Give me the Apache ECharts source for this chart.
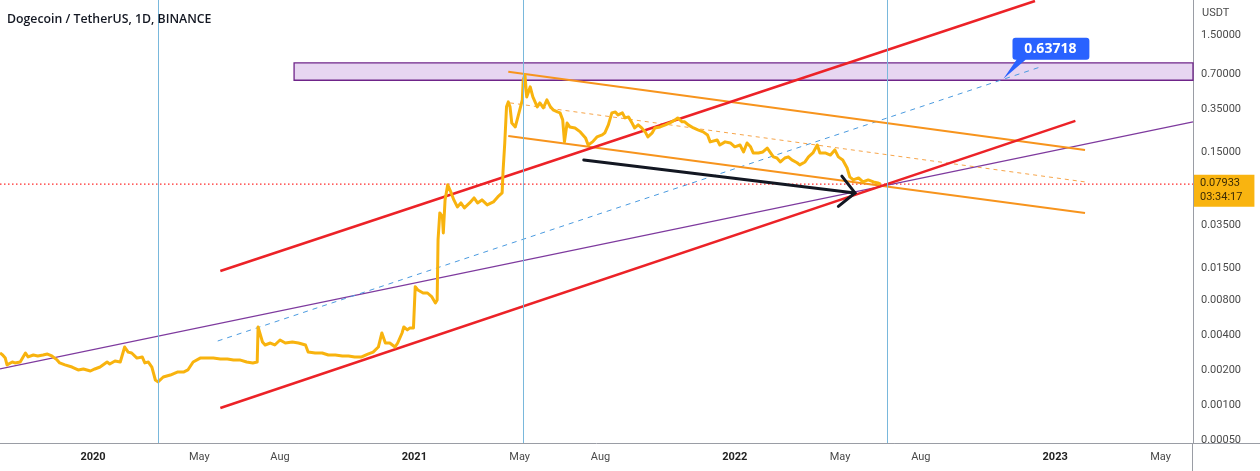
<!DOCTYPE html>
<html><head><meta charset="utf-8">
<script src="https://cdn.jsdelivr.net/npm/echarts@6/dist/echarts.min.js"></script>
<style>html,body{margin:0;padding:0;background:#fff}#c{width:1260px;height:471px}</style>
</head><body><div id="c"></div>
<script>
const chartTitle = 'Dogecoin / TetherUS, 1D, BINANCE';
const quoteUnit = 'USDT';

const priceDates = [
'2019-09-17','2019-09-20','2019-09-23','2019-09-25','2019-10-01','2019-10-04','2019-10-10','2019-10-16','2019-10-19','2019-10-25',
'2019-10-30','2019-11-05','2019-11-10','2019-11-15','2019-11-21','2019-11-24','2019-11-30','2019-12-08','2019-12-15','2019-12-21',
'2019-12-29','2020-01-03','2020-01-09','2020-01-17','2020-01-20','2020-01-26','2020-02-01','2020-02-06','2020-02-10','2020-02-14',
'2020-02-20','2020-02-26','2020-02-29','2020-03-04','2020-03-08','2020-03-12','2020-03-15','2020-03-21','2020-03-29','2020-04-06',
'2020-04-13','2020-04-18','2020-04-24','2020-05-02','2020-05-10','2020-05-17','2020-05-25','2020-06-02','2020-06-09','2020-06-16',
'2020-06-24','2020-07-01','2020-07-06','2020-07-07','2020-07-12','2020-07-15','2020-07-21','2020-07-26','2020-08-01','2020-08-07',
'2020-08-15','2020-08-22','2020-08-30','2020-09-02','2020-09-10','2020-09-18','2020-09-25','2020-10-03','2020-10-11','2020-10-18',
'2020-10-25','2020-11-02','2020-11-09','2020-11-15','2020-11-21','2020-11-25','2020-11-29','2020-12-04','2020-12-10','2020-12-13',
'2020-12-18','2020-12-20','2020-12-24','2020-12-27','2020-12-31','2021-01-02','2021-01-05','2021-01-11','2021-01-16','2021-01-21',
'2021-01-25','2021-01-27','2021-01-28','2021-01-30','2021-02-02','2021-02-03','2021-02-05','2021-02-08','2021-02-12','2021-02-15',
'2021-02-19','2021-02-23','2021-02-27','2021-03-05','2021-03-10','2021-03-14','2021-03-19','2021-03-25','2021-04-01','2021-04-06',
'2021-04-11','2021-04-12','2021-04-14','2021-04-16','2021-04-18','2021-04-20','2021-04-22','2021-04-26','2021-04-29','2021-05-04',
'2021-05-05','2021-05-07','2021-05-09','2021-05-13','2021-05-16','2021-05-21','2021-05-24','2021-05-28','2021-06-01','2021-06-05',
'2021-06-08','2021-06-13','2021-06-16','2021-06-19','2021-06-21','2021-06-24','2021-06-27','2021-07-03','2021-07-09','2021-07-15',
'2021-07-18','2021-07-23','2021-07-28','2021-08-03','2021-08-06','2021-08-10','2021-08-14','2021-08-18','2021-08-21','2021-08-26',
'2021-08-29','2021-09-02','2021-09-06','2021-09-09','2021-09-13','2021-09-17','2021-09-21','2021-09-24','2021-09-29','2021-10-02',
'2021-10-08','2021-10-14','2021-10-19','2021-10-25','2021-10-28','2021-11-02','2021-11-05','2021-11-09','2021-11-15','2021-11-20',
'2021-11-26','2021-12-01','2021-12-04','2021-12-06','2021-12-12','2021-12-15','2021-12-21','2021-12-27','2022-01-01','2022-01-07',
'2022-01-11','2022-01-15','2022-01-19','2022-01-22','2022-01-28','2022-02-02','2022-02-07','2022-02-10','2022-02-14','2022-02-18',
'2022-02-22','2022-02-27','2022-03-03','2022-03-07','2022-03-13','2022-03-16','2022-03-22','2022-03-26','2022-03-31','2022-04-05',
'2022-04-08','2022-04-14','2022-04-20','2022-04-25','2022-04-29','2022-05-04','2022-05-09','2022-05-12','2022-05-16','2022-05-22',
'2022-05-27','2022-06-02','2022-06-08','2022-06-13','2022-06-16'
];
const priceValues = [
0.00280,0.00269,0.00253,0.00221,0.00234,0.00230,0.00234,0.00280,0.00259,0.00269,
0.00264,0.00269,0.00274,0.00264,0.00244,0.00230,0.00221,0.00212,0.00200,0.00204,
0.00196,0.00204,0.00212,0.00234,0.00225,0.00239,0.00234,0.00315,0.00285,0.00280,
0.00253,0.00259,0.00230,0.00234,0.00212,0.00164,0.00158,0.00174,0.00181,0.00192,
0.00192,0.00200,0.00234,0.00253,0.00253,0.00253,0.00249,0.00249,0.00244,0.00244,
0.00234,0.00230,0.00234,0.00469,0.00348,0.00328,0.00341,0.00328,0.00362,0.00341,
0.00348,0.00341,0.00328,0.00285,0.00280,0.00280,0.00269,0.00269,0.00264,0.00264,
0.00259,0.00259,0.00274,0.00285,0.00315,0.00416,0.00341,0.00341,0.00315,0.00341,
0.00416,0.00469,0.00442,0.00460,0.00460,0.0104,0.00975,0.00918,0.00918,0.00849,
0.00754,0.0080,0.0263,0.0448,0.0414,0.0301,0.0580,0.0781,0.0666,0.0580,
0.0505,0.0546,0.0495,0.0546,0.0603,0.0546,0.0580,0.0525,0.0557,0.0615,
0.0666,0.1009,0.179,0.366,0.404,0.366,0.266,0.246,0.300,0.420,
0.625,0.690,0.446,0.544,0.446,0.366,0.396,0.359,0.420,0.366,
0.345,0.331,0.325,0.283,0.183,0.266,0.246,0.241,0.223,0.198,
0.172,0.183,0.202,0.210,0.219,0.256,0.325,0.331,0.312,0.325,
0.294,0.300,0.266,0.241,0.256,0.241,0.223,0.202,0.219,0.241,
0.246,0.256,0.266,0.283,0.294,0.272,0.272,0.256,0.241,0.232,
0.223,0.210,0.183,0.179,0.190,0.172,0.183,0.179,0.166,0.172,
0.150,0.179,0.166,0.147,0.147,0.150,0.162,0.150,0.136,0.133,
0.123,0.133,0.136,0.128,0.121,0.116,0.123,0.136,0.147,0.172,
0.147,0.147,0.141,0.156,0.136,0.128,0.109,0.0914,0.0862,0.0896,
0.0828,0.0862,0.0828,0.0812,0.07933
];

const lastPrice = 0.07933;
const countdownText = '03:34:17';

const xTickDates = ['2020-01-01','2020-05-01','2020-08-01','2021-01-01','2021-05-01','2021-08-01','2022-01-01','2022-05-01','2022-08-01','2023-01-01','2023-05-01'];
const xTickLabels = ['2020','May','Aug','2021','May','Aug','2022','May','Aug','2023','May'];
const yTickValues = [1.5, 0.7, 0.35, 0.15, 0.035, 0.015, 0.008, 0.004, 0.002, 0.001, 0.0005];

const cycleMarkerDates = ['2020-03-15','2021-05-05','2022-06-24'];

const redUpperLine = [['2020-05-25', 0.0142], ['2022-12-09', 2.98]];
const redLowerLine = [['2020-05-25', 0.000942], ['2023-01-24', 0.277]];
const orangeUpperLine = [['2021-04-18', 0.732], ['2023-02-04', 0.156]];
const orangeLowerLine = [['2021-04-18', 0.206], ['2023-02-04', 0.0448]];
const orangeMidLine = [['2021-04-20', 0.396], ['2023-02-04', 0.0828]];
const purpleLine = [['2019-09-17', 0.00204], ['2023-06-07', 0.272]];
const blueDashLine = [['2020-05-22', 0.00355], ['2022-12-15', 0.806]];
const targetPoint = ['2022-11-03', 0.63718];
const arrowShaft = [['2021-07-13', 0.128], ['2022-05-18', 0.0666]];
const arrowHead = [['2022-05-03', 0.0930], ['2022-05-18', 0.0666], ['2022-04-29', 0.0510]];

const zoneStart = '2020-08-17';
const zoneEnd = '2023-06-07';
const zoneLow = 0.62;
const zoneHigh = 0.873;

const xMin = '2019-09-17';
const xMax = '2023-06-07';
const yMin = 0.000471;
const yMax = 3.037;

const xLabelMap = {};
xTickDates.forEach((d, i) => { xLabelMap[d.slice(0, 7)] = xTickLabels[i]; });
const DAY = 86400000;

const chart = echarts.init(document.getElementById('c'), null, {renderer: 'canvas'});

function lineSeries(data, color, width, type, z) {
  return {
    type: 'line', data: data, showSymbol: false, symbol: 'none', silent: true,
    lineStyle: {color: color, width: width, type: type || 'solid', cap: 'butt'},
    z: z || 3, animation: false
  };
}

const option = {
  animation: false,
  backgroundColor: '#ffffff',
  title: {
    text: chartTitle, left: 2, top: 8,
    textStyle: {fontFamily: 'Open Sans', fontWeight: 600, fontSize: 12.3, color: '#131722'}
  },
  grid: {left: 0, right: 67, top: 0, bottom: 28, containLabel: false},
  xAxis: {
    type: 'time', min: xMin, max: xMax,
    minInterval: 28 * DAY, maxInterval: 31 * DAY,
    axisLine: {show: true, lineStyle: {color: '#9a9da5', width: 1}},
    axisTick: {show: false},
    splitLine: {show: false},
    axisLabel: {
      margin: 9, hideOverlap: false, showMinLabel: false, showMaxLabel: false,
      fontFamily: 'Roboto', fontSize: 11, color: '#4a4a4a',
      formatter: function (v) {
        const d = new Date(v);
        if (d.getDate() !== 1) return '';
        const key = d.getFullYear() + '-' + String(d.getMonth() + 1).padStart(2, '0');
        const l = xLabelMap[key];
        if (l === undefined) return '';
        return /^\d{4}$/.test(l) ? '{y|' + l + '}' : l;
      },
      rich: {y: {fontFamily: 'Roboto', fontSize: 11, fontWeight: 'bold', color: '#222'}}
    }
  },
  yAxis: {
    type: 'log', logBase: 10, min: yMin, max: yMax, position: 'right',
    axisLine: {show: true, lineStyle: {color: '#9a9da5', width: 1}},
    axisTick: {show: false},
    splitLine: {show: false},
    axisLabel: {
      customValues: yTickValues,
      margin: 8, fontFamily: 'Roboto', fontSize: 11, color: '#4a4a4a',
      formatter: v => Number(v).toFixed(5)
    }
  },
  graphic: [
    {type: 'text', left: 1202, top: 8, style: {text: quoteUnit, font: '11px Roboto', fill: '#4a4a4a'}, z: 100},
    {type: 'rect', shape: {x: 1194, y: 443, width: 66, height: 28}, style: {fill: '#fff'}, z: 100},
    {type: 'line', shape: {x1: 1192.5, y1: 443, x2: 1192.5, y2: 471}, style: {stroke: '#9a9da5', lineWidth: 1}, z: 101},
    {type: 'line', shape: {x1: 1193, y1: 443.5, x2: 1260, y2: 443.5}, style: {stroke: '#9a9da5', lineWidth: 1}, z: 101}
  ],
  series: [
    {
      type: 'line', data: [], silent: true,
      markArea: {
        silent: true,
        itemStyle: {color: '#e7d6f1', borderColor: '#6f2489', borderWidth: 1.3},
        data: [[{xAxis: zoneStart, yAxis: zoneLow}, {xAxis: zoneEnd, yAxis: zoneHigh}]]
      },
      markLine: {
        silent: true, symbol: ['none', 'none'], animation: false,
        lineStyle: {color: '#79b8dc', width: 1, type: 'solid'},
        label: {show: false},
        data: cycleMarkerDates.map(d => ({xAxis: d}))
      },
      z: 1
    },
    Object.assign(lineSeries([[xMin, lastPrice], [xMax, lastPrice]], '#ff2a2a', 1.2, [1.5, 2.5], 2), {
      markLine: {
        silent: true, symbol: ['none', 'none'], animation: false,
        lineStyle: {color: 'rgba(0,0,0,0)', width: 0},
        label: {
          show: true, position: 'end', distance: 1,
          formatter: lastPrice.toFixed(5) + '\n' + countdownText,
          backgroundColor: '#f9b410', color: '#3b2b05',
          fontFamily: 'Roboto', fontSize: 11, lineHeight: 14,
          padding: [2, 12, 2, 6], offset: [0, 7]
        },
        data: [{yAxis: lastPrice}]
      }
    }),
    lineSeries(purpleLine, '#7e3a9e', 1.2, 'solid', 2),
    Object.assign(lineSeries(blueDashLine, '#4b9be0', 1, [5, 5], 2), {
      markPoint: {
        silent: true, animation: false,
        data: [{coord: targetPoint, value: targetPoint[1]}],
        symbol: 'path://M12,0 L82,0 Q85,0 85,3 L85,19 Q85,22 82,22 L22,22 L0,41 L13,22 L12,22 Q9,22 9,19 L9,3 Q9,0 12,0 Z',
        symbolSize: [86, 41], symbolKeepAspect: false, symbolOffset: [43, -20.5],
        itemStyle: {color: '#2962ff'},
        label: {
          show: true, position: 'inside', offset: [4, -9.5],
          formatter: () => targetPoint[1].toFixed(5),
          color: '#ffffff', fontFamily: 'Open Sans', fontWeight: 'bold', fontSize: 14
        }
      }
    }),
    lineSeries(orangeUpperLine, '#f7941d', 2, 'solid', 3),
    lineSeries(orangeLowerLine, '#f7941d', 2, 'solid', 3),
    lineSeries(orangeMidLine, '#f7a54a', 1, [4, 4], 3),
    lineSeries(redUpperLine, '#ec2227', 2.5, 'solid', 3),
    lineSeries(redLowerLine, '#ec2227', 2.5, 'solid', 3),
    {
      type: 'line', name: 'DOGEUSDT',
      data: priceDates.map((d, i) => [d, priceValues[i]]),
      showSymbol: false, symbol: 'none', silent: true,
      itemStyle: {color: '#f8b30e'},
      lineStyle: {color: '#f8b30e', width: 3, join: 'round'},
      z: 4
    },
    Object.assign(lineSeries(arrowShaft, '#131722', 3, 'solid', 5), {lineStyle: {color: '#131722', width: 3, cap: 'round'}}),
    Object.assign(lineSeries(arrowHead, '#131722', 3, 'solid', 5), {lineStyle: {color: '#131722', width: 3, cap: 'round', join: 'miter'}})
  ]
};
chart.setOption(option);
</script>
</body></html>
